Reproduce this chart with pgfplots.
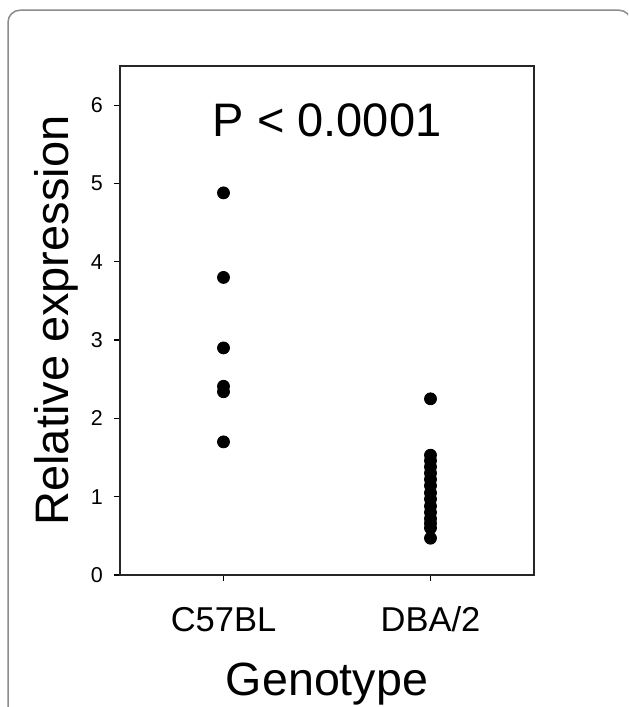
\documentclass[border=0pt]{standalone}
\usepackage{fontspec}
\setmainfont{Liberation Sans}
\usepackage{pgfplots}
\pgfplotsset{compat=1.18}

\newcommand{\ytl}{\fontsize{10.75}{12}\selectfont}

% one pixel of the reference = 0.5pt
\begin{document}
\begin{tikzpicture}
\useasboundingbox (0,0) rectangle (314pt,353.5pt);
\begin{scope}
  \clip (0,0) rectangle (314pt,353.5pt);
  \draw[line width=0.75pt, black!45, rounded corners=6pt] (4pt,-20pt) rectangle (315.5pt,348.4pt);
\end{scope}
\begin{axis}[
    at={(60pt,66pt)}, anchor=south west,
    scale only axis,
    width=207pt, height=254.5pt,
    xmin=0.5, xmax=2.5,
    ymin=0, ymax=6.5,
    xtick={1,2},
    xticklabels={C57BL,DBA/2},
    ytick={0,1,2,3,4,5,6},
    yticklabels={{\ytl 0},{\ytl 1},{\ytl 2},{\ytl 3},{\ytl 4},{\ytl 5},{\ytl 6}},
    tick pos=left,
    tick align=outside,
    major tick length=3pt,
    axis line style={black!85, line width=0.7pt},
    tick style={black, line width=0.6pt},
    yticklabel style={anchor=east, xshift=-2pt},
    xticklabel style={font=\fontsize{17.25}{20}\selectfont, anchor=base, yshift=-25pt},
    xlabel={Genotype},
    ylabel={Relative expression},
    xlabel style={font=\fontsize{23.3}{26}\selectfont, at={(axis description cs:0.5,-0.2358)}, anchor=base},
    ylabel style={font=\fontsize{23.5}{26}\selectfont, at={(axis description cs:-0.1256,0.5)}, anchor=base},
  ]
  \addplot[only marks, mark=*, mark size=3pt, black] coordinates {
    (1,4.88) (1,3.80) (1,2.90) (1,2.41) (1,2.34) (1,1.70)
  };
  \addplot[only marks, mark=*, mark size=3pt, black] coordinates {
    (2,2.25) (2,1.53) (2,1.46) (2,1.38) (2,1.30) (2,1.22) (2,1.14)
    (2,1.05) (2,0.97) (2,0.88) (2,0.80) (2,0.72) (2,0.66) (2,0.60) (2,0.47)
  };
  \node[font=\fontsize{23.5}{26}\selectfont, anchor=base] at (axis cs:1.5,5.6) {P < 0.0001};
\end{axis}
\end{tikzpicture}
\end{document}
